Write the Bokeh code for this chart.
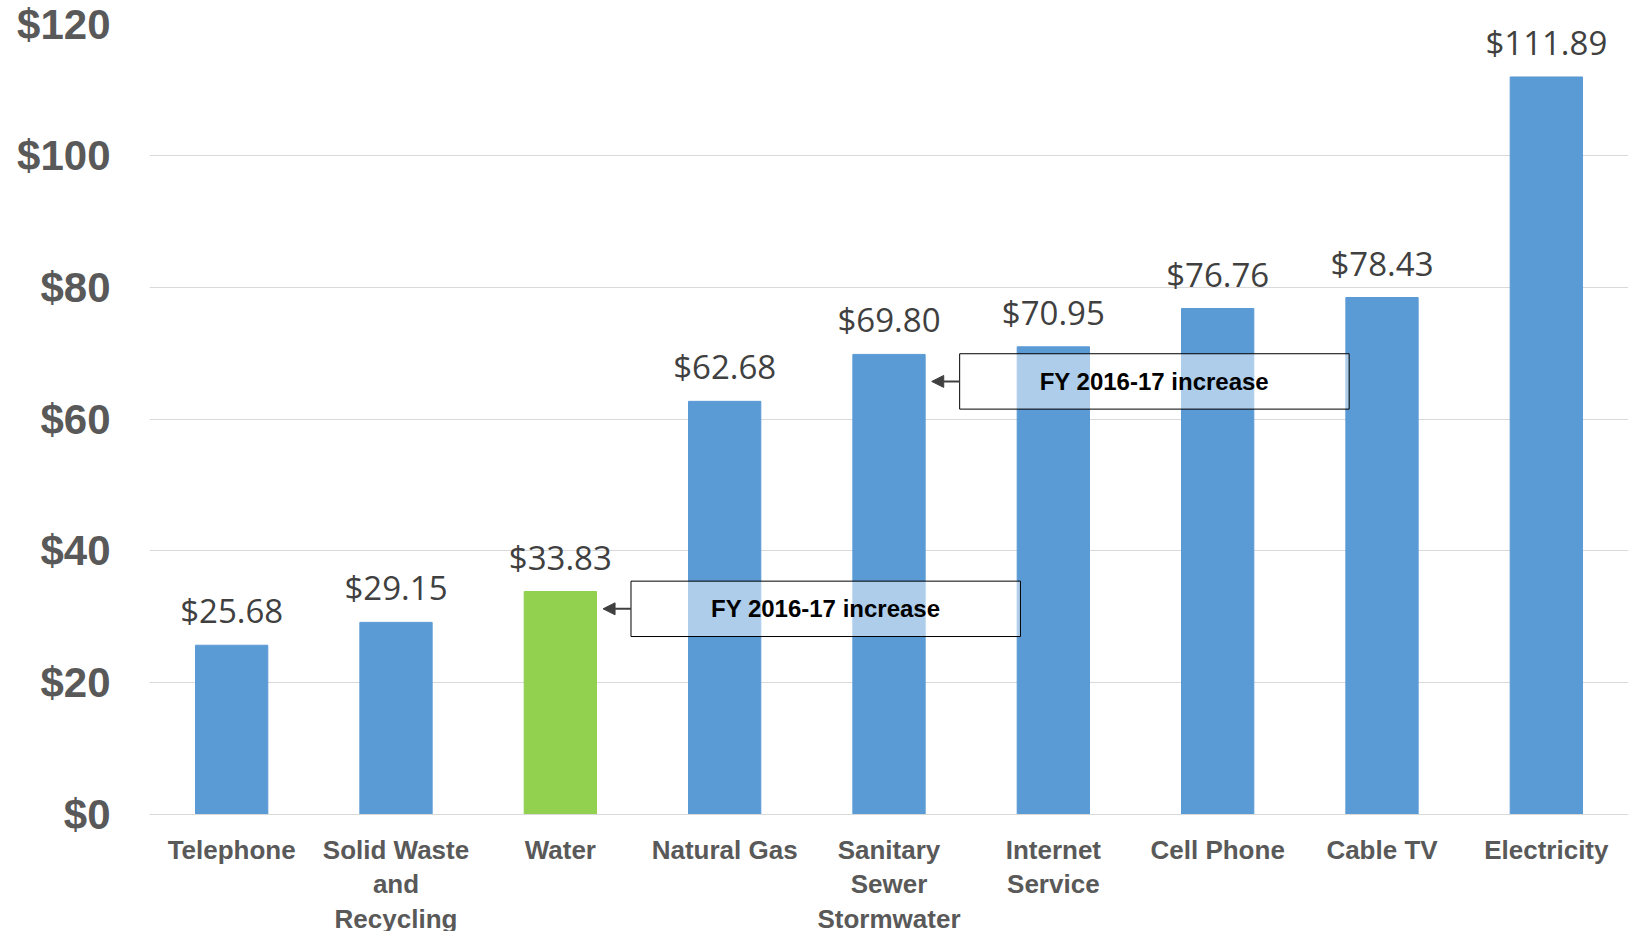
from bokeh.plotting import figure
from bokeh.models import FactorRange, FixedTicker, Arrow, NormalHead, ColumnDataSource
from bokeh.core.properties import value
from bokeh.embed import file_html
from bokeh.resources import INLINE

categories = ["Telephone", "Solid Waste\nand\nRecycling", "Water", "Natural Gas",
              "Sanitary\nSewer\nStormwater", "Internet\nService", "Cell Phone",
              "Cable TV", "Electricity"]
values = [25.68, 29.15, 33.83, 62.68, 69.80, 70.95, 76.76, 78.43, 111.89]
value_labels = ["$25.68", "$29.15", "$33.83", "$62.68", "$69.80", "$70.95",
                "$76.76", "$78.43", "$111.89"]
highlight = "Water"
y_ticks = [0, 20, 40, 60, 80, 100, 120]
y_tick_labels = ["$0", "$20", "$40", "$60", "$80", "$100", "$120"]

annotation_text = ["FY 2016-17 increase", "FY 2016-17 increase"]
annotation_target = ["Water", "Sanitary\nSewer\nStormwater"]
annotation_y = [31.2, 65.7]

BLUE = "#5B9BD5"
GREEN = "#92D050"

colors = [GREEN if c == highlight else BLUE for c in categories]
src = ColumnDataSource(dict(x=categories, top=values, color=colors, label=value_labels))

p = figure(x_range=FactorRange(factors=categories, range_padding=0),
           y_range=(0, 120), frame_width=1479, frame_height=791,
           output_backend="svg", toolbar_location=None,
           min_border_left=149, min_border_right=0, min_border_top=23,
           min_border_bottom=0)
p.outline_line_color = None
p.background_fill_color = "white"

p.vbar(x="x", top="top", width=0.44, color="color", source=src)

p.text(x="x", y="top", text="label", source=src, text_align="center",
       text_baseline="bottom", y_offset=-12, text_font=value("Open Sans"),
       text_font_size="33px", text_color="#404040")

# grid and axes
p.xgrid.grid_line_color = None
p.ygrid.grid_line_color = "#D9D9D9"
p.ygrid.grid_line_width = 1
p.yaxis.ticker = FixedTicker(ticks=y_ticks)
p.yaxis.major_label_overrides = {t: l for t, l in zip(y_ticks, y_tick_labels)}
p.yaxis.axis_line_color = None
p.yaxis.major_tick_line_color = None
p.yaxis.minor_tick_line_color = None
p.yaxis.major_label_text_font = "Liberation Sans"
p.yaxis.major_label_text_font_style = "bold"
p.yaxis.major_label_text_font_size = "42px"
p.yaxis.major_label_text_color = "#595959"
p.yaxis.major_label_standoff = 33

p.xaxis.axis_line_color = "#D9D9D9"
p.xaxis.major_tick_line_color = None
p.xaxis.minor_tick_line_color = None
p.xaxis.major_label_text_font = "Liberation Sans"
p.xaxis.major_label_text_font_style = "bold"
p.xaxis.major_label_text_font_size = "26px"
p.xaxis.major_label_text_line_height = 1.15
p.xaxis.major_label_text_color = "#595959"
p.xaxis.major_label_standoff = 14

# annotation boxes (positions in category units relative to target bar)
idx = {c: i for i, c in enumerate(categories)}
for txt, tgt, ymid in zip(annotation_text, annotation_target, annotation_y):
    i = idx[tgt]
    left = i + 0.93
    right = i + 3.30
    top = ymid + 4.2
    bottom = ymid - 4.2
    p.quad(left=[left], right=[right], top=[top], bottom=[bottom],
           fill_color="white", fill_alpha=0.5, line_color="black", line_width=1)
    p.text(x=[(left + right) / 2], y=[ymid], text=[txt], text_align="center",
           text_baseline="middle", text_font=value("Liberation Sans"),
           text_font_style="bold", text_font_size="24px", text_color="black")
    p.add_layout(Arrow(end=NormalHead(size=12, fill_color="#404040", line_color="#404040"),
                       x_start=left, y_start=ymid, x_end=i + 0.76, y_end=ymid,
                       line_color="#404040", line_width=2))

open("out.html", "w").write(file_html(p, INLINE))
